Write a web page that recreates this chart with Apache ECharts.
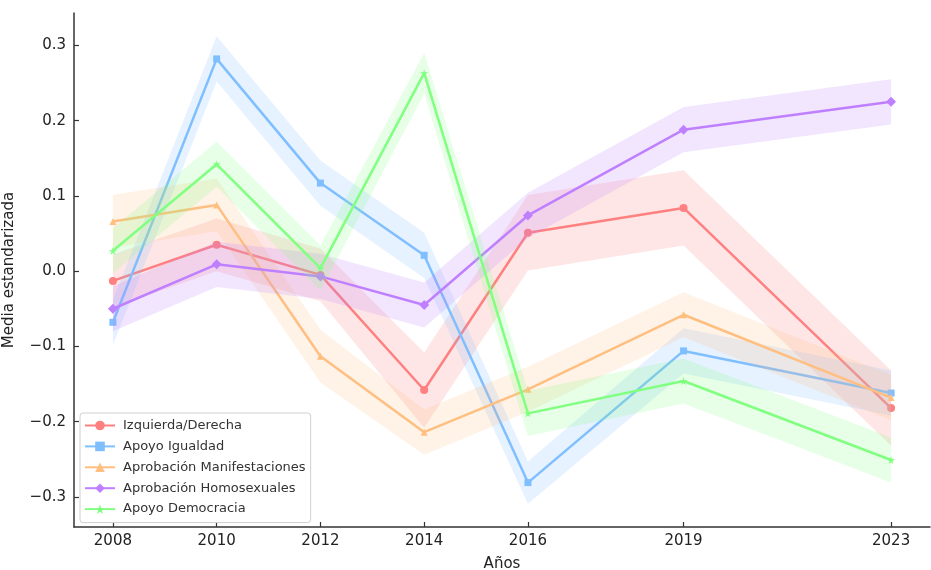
<!DOCTYPE html>
<html>
<head>
<meta charset="utf-8">
<script src="https://cdn.jsdelivr.net/npm/echarts@6/dist/echarts.min.js"></script>
<style>html,body{margin:0;padding:0;background:#fff}#c{width:931px;height:570px}</style>
</head>
<body>
<div id="c"></div>
<script>
const years = [2008, 2010, 2012, 2014, 2016, 2019, 2023];
const yTicks = [-0.3, -0.2, -0.1, 0.0, 0.1, 0.2, 0.3];

const izqDer      = [-0.013, 0.035, -0.005, -0.158, 0.051, 0.084, -0.182];
const izqDerErr   = [0.035, 0.035, 0.035, 0.05, 0.05, 0.05, 0.05];
const igualdad    = [-0.068, 0.282, 0.117, 0.021, -0.281, -0.106, -0.162];
const igualdadErr = [0.03, 0.03, 0.03, 0.03, 0.028, 0.03, 0.03];
const manif       = [0.066, 0.088, -0.113, -0.214, -0.157, -0.058, -0.168];
const manifErr    = [0.035, 0.035, 0.035, 0.03, 0.03, 0.03, 0.03];
const homo        = [-0.05, 0.009, -0.007, -0.045, 0.074, 0.188, 0.225];
const homoErr     = [0.03, 0.03, 0.03, 0.03, 0.03, 0.03, 0.03];
const democ       = [0.027, 0.142, 0.004, 0.263, -0.189, -0.146, -0.251];
const democErr    = [0.03, 0.03, 0.03, 0.027, 0.03, 0.03, 0.03];

const names = ['Izquierda/Derecha', 'Apoyo Igualdad', 'Aprobación Manifestaciones', 'Aprobación Homosexuales', 'Apoyo Democracia'];
const means = [izqDer, igualdad, manif, homo, democ];
const errs = [izqDerErr, igualdadErr, manifErr, homoErr, democErr];
const colors = ['#ff8080', '#80bfff', '#ffbf80', '#bf80ff', '#80ff80'];
const starPath = 'path://M50,0 L61,35 L98,35 L68,57 L79,91 L50,70 L21,91 L32,57 L2,35 L39,35 Z';
const symbols = ['circle', 'rect', 'triangle', 'diamond', starPath];
const symbolSizes = [8, 7, 7, 10, 8];

function hexToRgba(hex, a) {
  const r = parseInt(hex.slice(1, 3), 16), g = parseInt(hex.slice(3, 5), 16), b = parseInt(hex.slice(5, 7), 16);
  return 'rgba(' + r + ',' + g + ',' + b + ',' + a + ')';
}

const series = [];
means.forEach(function (m, k) {
  const e = errs[k];
  const bandData = years.map(function (y, i) { return [y, m[i] - e[i], m[i] + e[i]]; });
  series.push({
    type: 'custom',
    name: names[k] + ' band',
    silent: true,
    z: 1 + k * 2,
    data: bandData,
    encode: { x: 0, y: [1, 2] },
    renderItem: function (params, api) {
      if (params.dataIndex !== 0) return null;
      const upper = [], lower = [];
      for (let i = 0; i < years.length; i++) {
        upper.push(api.coord([years[i], m[i] + e[i]]));
        lower.push(api.coord([years[i], m[i] - e[i]]));
      }
      const pts = upper.concat(lower.reverse());
      return {
        type: 'polygon',
        shape: { points: pts },
        style: { fill: hexToRgba(colors[k], 0.2), stroke: null }
      };
    }
  });
  series.push({
    type: 'line',
    name: names[k],
    z: 2 + k * 2,
    data: years.map(function (y, i) { return [y, m[i]]; }),
    symbol: symbols[k],
    symbolSize: symbolSizes[k],
    showSymbol: true,
    lineStyle: { width: 2.5, color: colors[k] },
    itemStyle: { color: colors[k] },
    emphasis: { disabled: true }
  });
});

const chart = echarts.init(document.getElementById('c'), null, { renderer: 'canvas' });
chart.setOption({
  animation: false,
  backgroundColor: '#ffffff',
  textStyle: { fontFamily: 'DejaVu Sans' },
  grid: { left: 74, top: 13, right: 1, bottom: 43, containLabel: false, outerBoundsMode: 'none' },
  legend: {
    data: names,
    orient: 'vertical',
    left: 80,
    top: 413,
    padding: [6, 5, 7, 4],
    itemWidth: 30,
    itemHeight: 12,
    itemGap: 7.9,
    borderColor: '#d0d0d0',
    borderWidth: 1,
    borderRadius: 3,
    backgroundColor: 'rgba(255,255,255,0.85)',
    textStyle: { fontFamily: 'DejaVu Sans', fontSize: 13, color: '#333', padding: [0, 0, 0, 3] }
  },
  xAxis: {
    type: 'value',
    min: 2007.25,
    max: 2023.75,
    name: 'Años',
    nameLocation: 'middle',
    nameGap: 30,
    nameTextStyle: { fontSize: 15, color: '#222', fontFamily: 'DejaVu Sans' },
    axisLine: { show: true, onZero: false, lineStyle: { color: '#333', width: 1.5 } },
    axisTick: { show: true, inside: true, length: 5, customValues: years, lineStyle: { color: '#333', width: 1.2 } },
    axisLabel: { customValues: years, fontSize: 15, color: '#222', margin: 7, formatter: function (v) { return String(v); } },
    splitLine: { show: false }
  },
  yAxis: {
    type: 'value',
    min: -0.340,
    max: 0.343,
    name: 'Media estandarizada',
    nameLocation: 'middle',
    nameGap: 57,
    nameTextStyle: { fontSize: 15, color: '#222', fontFamily: 'DejaVu Sans' },
    axisLine: { show: true, onZero: false, lineStyle: { color: '#333', width: 1.5 } },
    axisTick: { show: true, inside: true, length: 5, customValues: yTicks, lineStyle: { color: '#333', width: 1.2 } },
    axisLabel: {
      customValues: yTicks, fontSize: 15, color: '#222', margin: 8,
      formatter: function (v) { const s = Math.abs(v).toFixed(1); return (v < -1e-9 ? '\u2212' : '') + s; }
    },
    splitLine: { show: false }
  },
  series: series
});
</script>
</body>
</html>
